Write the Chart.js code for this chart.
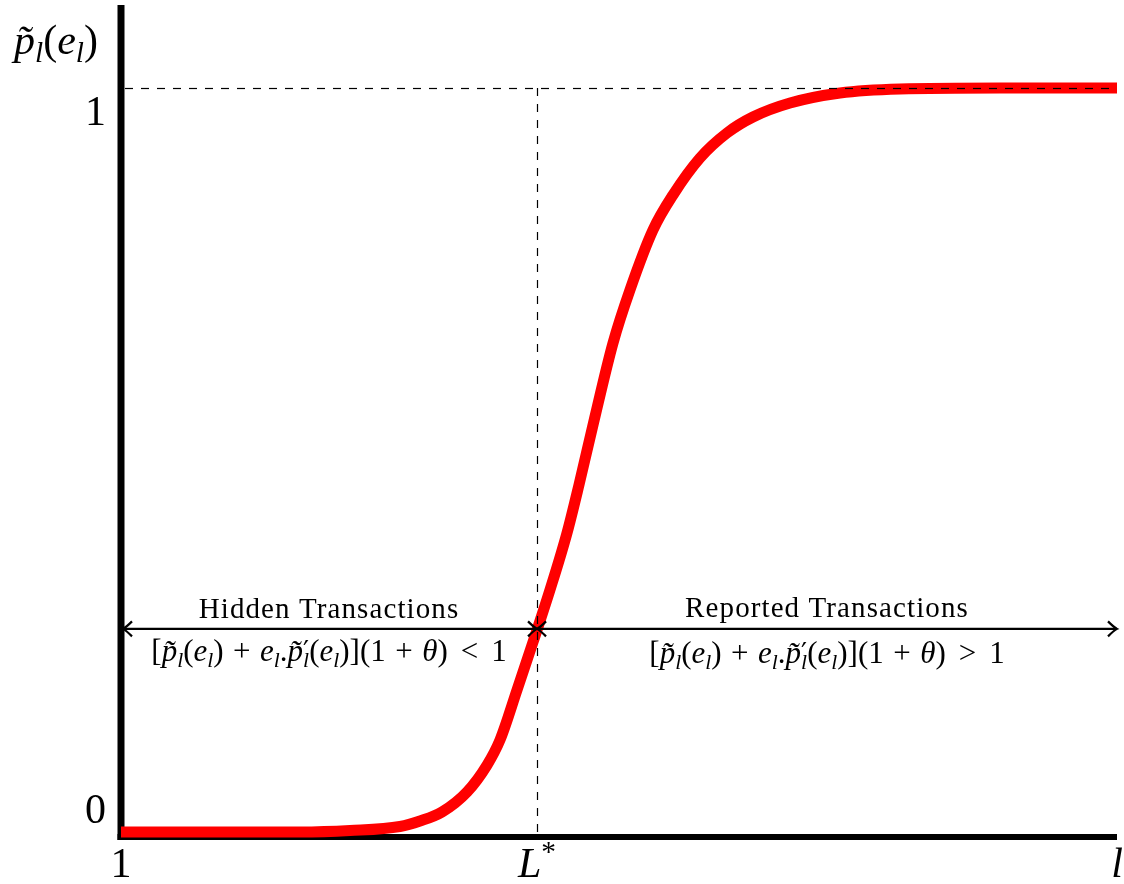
<!DOCTYPE html>
<html>
<head>
<meta charset="utf-8">
<script src="https://cdn.jsdelivr.net/npm/chart.js@4.4.1/dist/chart.umd.min.js"></script>
<style>
  html, body { margin: 0; padding: 0; background: #ffffff; }
  #wrap { width: 1124px; height: 884px; }
</style>
</head>
<body>
<div id="wrap"><canvas id="c" width="1124" height="884"></canvas></div>
<script>
// ---- data ----
const levels = [0, 17.97, 22.99, 28.01, 30.02, 32.23, 34.74, 36.75, 38.05, 39.76, 41.77, 43.07, 44.78, 45.98, 47.39, 49.40, 51.10, 53.41, 55.42, 58.13, 60.84, 63.45, 67.17, 72.19, 78.21, 88.25, 100];
const probability = [0, 0, 0.0020, 0.0074, 0.0148, 0.0269, 0.0538, 0.090, 0.1237, 0.1909, 0.2715, 0.3253, 0.4019, 0.4664, 0.5470, 0.6573, 0.7285, 0.8091, 0.8562, 0.9059, 0.9395, 0.9610, 0.9798, 0.9933, 0.9987, 1.0, 1.0];
const lStar = 41.77;
const arrowLevel = 0.273;
const yTickValues = [0, 1];
const xTickValues = [0, lStar, 100];
const xTickLabels = [[['1','r']], [['L','i'],['*','sup']], [['l','i']]];
const yTickLabels = [[['0','r']], [['1','r']]];
const yTitle = [['p\u0303','i'],['l','sub'],['(','r'],['e','i'],['l','sub'],[')','r']];
const leftTitle = 'Hidden Transactions';
const rightTitle = 'Reported Transactions';
function condition(rel) {
  return [['[','r'],['p\u0303','i'],['l','sub'],['(','r'],['e','i'],['l','sub'],[')','r'],
          ['9.5','gap'],['+','r'],['9.5','gap'],
          ['e','i'],['l','sub'],['.','r'],['p\u0303','i'],['\u2032','prime'],['l','subk'],['(','r'],['e','i'],['l','sub'],[')','r'],
          [']','r'],['(1','r'],['9.5','gap'],['+','r'],['9.5','gap'],['\u03B8','i'],[')','r'],
          ['13','gap'],[rel,'r'],['13','gap'],['1','r']];
}
const leftCondition = condition('<');
const rightCondition = condition('>');

const FONT = '"Liberation Serif", "DejaVu Serif", serif';

function runFont(kind, size) {
  if (kind === 'prime') return (size * 0.85) + 'px "DejaVu Serif", serif';
  const small = (kind === 'sub' || kind === 'sup' || kind === 'subk');
  const s = small ? size * 0.7 : size;
  const italic = (kind === 'i' || kind === 'sub' || kind === 'subk') ? 'italic ' : '';
  return italic + s + 'px ' + FONT;
}
function layoutRich(ctx, runs, size) {
  let x = 0, lastStart = 0;
  const out = [];
  for (const [t, k] of runs) {
    if (k === 'gap') { x += parseFloat(t); continue; }
    ctx.font = runFont(k, size);
    const w = ctx.measureText(t).width;
    let dy = 0;
    if (k === 'sub' || k === 'subk') dy = size * 0.2;
    if (k === 'sup') dy = -size * 0.38;
    if (k === 'prime') dy = -size * 0.05;
    let px = x;
    if (k === 'subk') { px = lastStart; }
    out.push({ t, k, x: px, dy, w });
    if (k === 'subk') { x = Math.max(x, px + w); }
    else { lastStart = x; x += w; }
  }
  return { items: out, width: x };
}
function drawRich(ctx, runs, x, y, size, align) {
  const lay = layoutRich(ctx, runs, size);
  let x0 = x;
  if (align === 'center') x0 = x - lay.width / 2;
  else if (align === 'right') x0 = x - lay.width;
  ctx.textBaseline = 'alphabetic';
  ctx.textAlign = 'left';
  ctx.fillStyle = '#000';
  for (const it of lay.items) {
    ctx.font = runFont(it.k, size);
    ctx.fillText(it.t, x0 + it.x, y + it.dy);
  }
}
function arrowHead(ctx, x, y, dir) {
  const len = 9, half = 7.5;
  ctx.beginPath();
  ctx.moveTo(x - dir * len, y - half);
  ctx.quadraticCurveTo(x - dir * 3, y - 1.5, x, y);
  ctx.quadraticCurveTo(x - dir * 3, y + 1.5, x - dir * len, y + half);
  ctx.stroke();
}

const decor = {
  id: 'decor',
  beforeDatasetsDraw(chart) {
    const ctx = chart.ctx, xs = chart.scales.x, ys = chart.scales.y;
    const left = xs.getPixelForValue(0), right = xs.getPixelForValue(100);
    const bottom = ys.getPixelForValue(ys.min), top = ys.getPixelForValue(ys.max);
    ctx.save();
    ctx.strokeStyle = '#000';
    ctx.lineCap = 'butt';
    ctx.lineWidth = 7;
    ctx.beginPath(); ctx.moveTo(left, top); ctx.lineTo(left, bottom + 3); ctx.stroke();
    ctx.lineWidth = 6;
    ctx.beginPath(); ctx.moveTo(left - 3.5, bottom); ctx.lineTo(right, bottom); ctx.stroke();
    ctx.restore();
  },
  afterDatasetsDraw(chart) {
    const ctx = chart.ctx, xs = chart.scales.x, ys = chart.scales.y;
    const left = xs.getPixelForValue(0), right = xs.getPixelForValue(100);
    const bottom = ys.getPixelForValue(ys.min);
    const y1 = ys.getPixelForValue(1);
    const xL = xs.getPixelForValue(lStar);
    const ya = ys.getPixelForValue(arrowLevel);
    ctx.save();
    ctx.strokeStyle = '#000';
    ctx.lineWidth = 1.2;
    ctx.setLineDash([8, 8]);
    ctx.beginPath(); ctx.moveTo(left + 4, Math.round(y1) + 0.5); ctx.lineTo(right, Math.round(y1) + 0.5); ctx.stroke();
    ctx.beginPath(); ctx.moveTo(Math.round(xL) + 0.5, y1); ctx.lineTo(Math.round(xL) + 0.5, bottom - 3); ctx.stroke();
    ctx.setLineDash([]);
    ctx.lineWidth = 2.2;
    ctx.beginPath(); ctx.moveTo(left + 2, ya); ctx.lineTo(right, ya); ctx.stroke();
    arrowHead(ctx, left + 2, ya, -1);
    arrowHead(ctx, xL, ya, 1);
    arrowHead(ctx, xL, ya, -1);
    arrowHead(ctx, right, ya, 1);
    ctx.fillStyle = '#000';
    ctx.textAlign = 'center';
    ctx.textBaseline = 'alphabetic';
    ctx.font = '29px ' + FONT;
    ctx.letterSpacing = '1.1px';
    ctx.fillText(leftTitle, (left + xL) / 2, ya - 11);
    ctx.fillText(rightTitle, (xL + right) / 2, ya - 12);
    ctx.letterSpacing = '0px';
    drawRich(ctx, leftCondition, (left + xL) / 2, ya + 32, 31, 'center');
    drawRich(ctx, rightCondition, (xL + right) / 2, ya + 34, 31, 'center');
    yTickValues.forEach((v, i) => {
      drawRich(ctx, yTickLabels[i], left - 15, ys.getPixelForValue(v) + (v === 0 ? -9 : 37), 42, 'right');
    });
    xTickValues.forEach((v, i) => {
      drawRich(ctx, xTickLabels[i], xs.getPixelForValue(v), bottom + 40, 42, 'center');
    });
    drawRich(ctx, yTitle, 56, 54, 42, 'center');
    ctx.restore();
  }
};

new Chart(document.getElementById('c'), {
  type: 'line',
  data: {
    datasets: [{
      data: levels.map((x, i) => ({ x, y: probability[i] })),
      borderColor: '#ff0000',
      borderWidth: 11,
      pointRadius: 0,
      cubicInterpolationMode: 'monotone',
      borderJoinStyle: 'round',
      borderCapStyle: 'butt',
      fill: false,
      clip: false
    }]
  },
  options: {
    responsive: false,
    animation: false,
    devicePixelRatio: 1,
    layout: { padding: { left: 121, right: 7, top: 5, bottom: 47 } },
    plugins: { legend: { display: false }, tooltip: { enabled: false } },
    scales: {
      x: { type: 'linear', min: 0, max: 100, display: false },
      y: { type: 'linear', min: -5 / 744, max: 827 / 744, display: false }
    }
  },
  plugins: [decor]
});
</script>
</body>
</html>
